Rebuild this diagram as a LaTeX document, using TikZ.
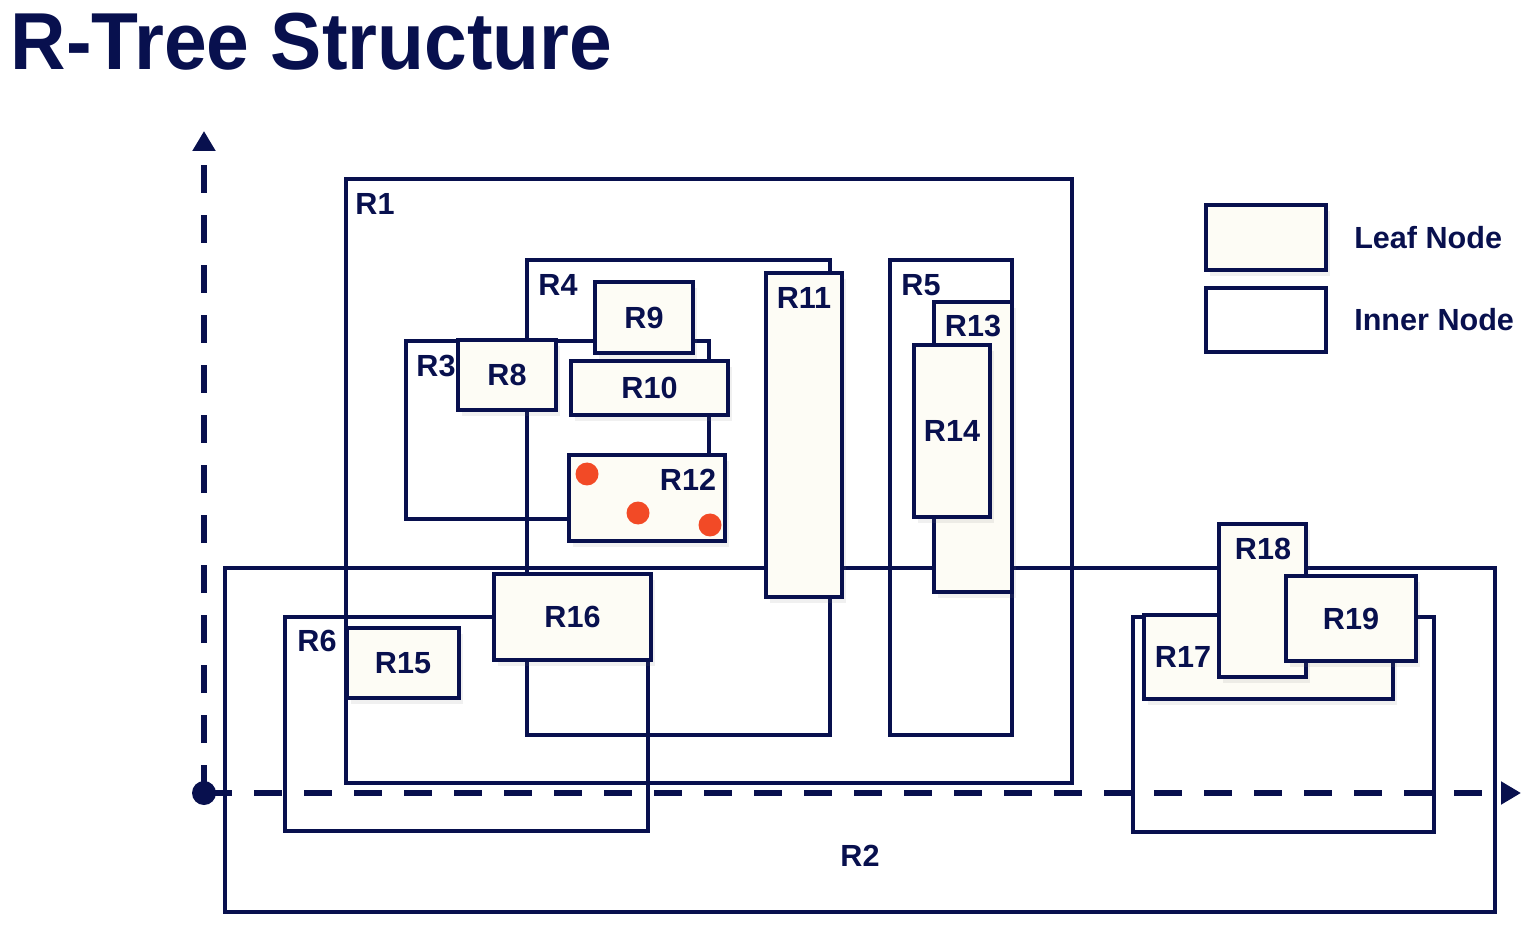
\documentclass[tikz,border=0pt]{standalone}
\usepackage{fontspec}
\setmainfont{Liberation Sans}
\newfontfamily\titlefont{Liberation Sans}[FakeStretch=0.95]
\usepackage{tikz}
\usetikzlibrary{arrows.meta, positioning, fit, shadows}
\definecolor{navy}{RGB}{8,16,78}
\definecolor{cream}{RGB}{253,252,245}
\definecolor{dotred}{RGB}{242,74,38}

\begin{document}
\begin{tikzpicture}[
  every node/.style={font=\fontsize{8.7}{10}\selectfont\bfseries, text=navy},
  innerbox/.style={draw=navy, line width=0.9pt, inner sep=0pt},
  leafbox/.style={innerbox, fill=cream,
                  drop shadow={shadow xshift=0.04cm, shadow yshift=-0.06cm, opacity=0.12}},
  lbl/.style={inner sep=0pt},
  datapt/.style={circle, fill=dotred, minimum size=0.23cm, inner sep=0pt},
  axisline/.style={navy, line width=1.7pt, dash pattern=on 0.28cm off 0.22cm,
                   -{Triangle[length=0.2cm, width=0.22cm]}},
]
  \useasboundingbox (0,0) rectangle (15.36,9.32);

  \node[lbl, anchor=base west, font=\titlefont\fontsize{23}{26}\selectfont\bfseries]
        (title) at (0.10,8.62) {R-Tree Structure};

  % inner nodes
  \node[innerbox, fit={(2.25,3.64) (14.95,0.20)}]  (r2)   {};
  \node[innerbox, fit={(3.46,7.53) (10.72,1.49)}]  (r1)   {};
  \node[innerbox, fit={(5.27,6.72) (8.30,1.97)}]   (r4)   {};
  \node[innerbox, fit={(4.06,5.91) (7.09,4.13)}]   (r3)   {};
  \node[innerbox, fit={(8.90,6.72) (10.12,1.97)}]  (r5)   {};
  \node[innerbox, fit={(2.85,3.15) (6.48,1.01)}]   (r6)   {};
  \node[innerbox, fit={(11.33,3.15) (14.34,1.00)}] (rgrp) {};

  % leaf nodes
  \node[leafbox, fit={(4.58,5.92) (5.56,5.22)}]    (r8)  {};
  \node[leafbox, fit={(5.95,6.50) (6.93,5.79)}]    (r9)  {};
  \node[leafbox, fit={(5.71,5.71) (7.28,5.17)}]    (r10) {};
  \node[leafbox, fit={(5.69,4.77) (7.25,3.91)}]    (r12) {};
  \node[leafbox, fit={(7.66,6.59) (8.42,3.35)}]    (r11) {};
  \node[leafbox, fit={(9.34,6.30) (10.12,3.40)}]   (r13) {};
  \node[leafbox, fit={(9.14,5.87) (9.90,4.15)}]    (r14) {};
  \node[leafbox, fit={(3.47,3.04) (4.59,2.34)}]    (r15) {};
  \node[leafbox, fit={(4.94,3.58) (6.51,2.72)}]    (r16) {};
  \node[leafbox, fit={(11.44,3.17) (13.93,2.33)}]  (r17) {};
  \node[leafbox, fit={(12.19,4.08) (13.06,2.55)}]  (r18) {};
  \node[leafbox, fit={(12.86,3.56) (14.16,2.71)}]  (r19) {};

  % labels centred in their box
  \node[lbl] (r8t)  at (r8)  {R8};
  \node[lbl] (r9t)  at (r9)  {R9};
  \node[lbl] (r10t) at (r10) {R10};
  \node[lbl] (r14t) at (r14) {R14};
  \node[lbl] (r15t) at (r15) {R15};
  \node[lbl] (r16t) at (r16) {R16};
  \node[lbl] (r19t) at (r19) {R19};

  % labels set in a corner
  \node[lbl] (r1t)  at (3.75,7.28)  {R1};
  \node[lbl] (r2t)  at (8.60,0.76)  {R2};
  \node[lbl] (r3t)  at (4.36,5.66)  {R3};
  \node[lbl] (r4t)  at (5.58,6.47)  {R4};
  \node[lbl] (r5t)  at (9.21,6.47)  {R5};
  \node[lbl] (r6t)  at (3.17,2.91)  {R6};
  \node[lbl] (r11t) at (8.04,6.34)  {R11};
  \node[lbl] (r12t) at (6.88,4.52)  {R12};
  \node[lbl] (r13t) at (9.73,6.06)  {R13};
  \node[lbl] (r17t) at (11.83,2.75) {R17};
  \node[lbl] (r18t) at (12.63,3.83) {R18};

  % points in R12
  \node[datapt] (p1) at (5.87,4.58) {};
  \node[datapt] (p2) at (6.38,4.19) {};
  \node[datapt] (p3) at (7.10,4.07) {};

  % legend
  \node[leafbox, fit={(12.06,7.27) (13.26,6.62)}]  (legleaf)  {};
  \node[innerbox, fit={(12.06,6.44) (13.26,5.80)}] (leginner) {};
  \node[lbl, right=0.26cm of legleaf]  (legleaft)  {Leaf Node};
  \node[lbl, right=0.26cm of leginner] (leginnert) {Inner Node};

  % axes
  \node[circle, fill=navy, minimum size=0.24cm, inner sep=0pt] (org) at (2.04,1.39) {};
  \coordinate (ytip) at (2.04,8.01);
  \coordinate (xtip) at (15.21,1.39);
  \draw[axisline] (org.center) -- (ytip);
  \draw[axisline] (org.center) -- (xtip);
\end{tikzpicture}
\end{document}
